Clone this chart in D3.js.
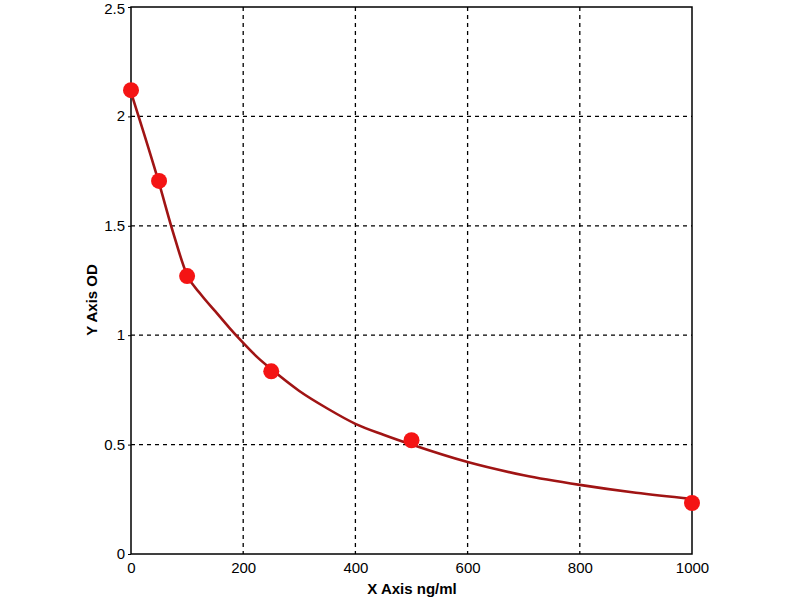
<!DOCTYPE html>
<html>
<head>
<meta charset="utf-8">
<script src="https://cdn.jsdelivr.net/npm/d3@7.9.0/dist/d3.min.js"></script>
<style>
  body { margin: 0; background: #fff; }
  svg { font-family: "Liberation Sans", Arial, sans-serif; }
</style>
</head>
<body>
<svg width="800" height="600"></svg>
<script>
// standard points (ng/ml, OD)
const conc = [0, 50, 100, 250, 500, 1000];
const od = [2.12, 1.705, 1.27, 0.835, 0.52, 0.233];

// fitted curve
const fitX = [0, 50, 75, 100, 125, 150, 175, 200, 225, 250, 300, 350, 400, 450, 500, 600, 700, 800, 900, 1000];
const fitY = [2.11, 1.695, 1.47, 1.275, 1.185, 1.11, 1.035, 0.965, 0.9, 0.845, 0.745, 0.665, 0.595, 0.545, 0.5, 0.42, 0.36, 0.316, 0.28, 0.252];

const xTicks = [0, 200, 400, 600, 800, 1000];
const yTicks = [0, 0.5, 1, 1.5, 2, 2.5];

const svg = d3.select('svg');
const mLeft = 131, mRight = 692, mTop = 7, mBottom = 554;

const x = d3.scaleLinear().domain([0, 1000]).range([mLeft, mRight]);
const y = d3.scaleLinear().domain([0, 2.5]).range([mBottom, mTop]);

// grid
svg.append('g').selectAll('line').data(xTicks.slice(1, -1)).join('line')
  .attr('x1', d => x(d)).attr('x2', d => x(d))
  .attr('y1', mTop).attr('y2', mBottom)
  .attr('stroke', '#000').attr('stroke-width', 1.3).attr('stroke-dasharray', '4,4');
svg.append('g').selectAll('line').data(yTicks.slice(1, -1)).join('line')
  .attr('x1', mLeft).attr('x2', mRight)
  .attr('y1', d => y(d)).attr('y2', d => y(d))
  .attr('stroke', '#000').attr('stroke-width', 1.3).attr('stroke-dasharray', '4,4');

// frame
svg.append('rect')
  .attr('x', mLeft).attr('y', mTop)
  .attr('width', mRight - mLeft).attr('height', mBottom - mTop)
  .attr('fill', 'none').attr('stroke', '#000').attr('stroke-width', 1.5);

// axes
const xAxis = svg.append('g')
  .attr('transform', `translate(0,${mBottom})`)
  .call(d3.axisBottom(x).tickValues(xTicks).tickSize(0).tickPadding(8).tickFormat(d3.format('d')));
const yAxis = svg.append('g')
  .attr('transform', `translate(${mLeft},0)`)
  .call(d3.axisLeft(y).tickValues(yTicks).tickSize(3).tickPadding(3).tickFormat(d => d));
[xAxis, yAxis].forEach(a => {
  a.select('.domain').remove();
  a.selectAll('text').attr('font-size', 15).attr('fill', '#000')
    .attr('font-family', '"Liberation Sans", Arial, sans-serif');
});
yAxis.selectAll('text').attr('dy', '0.3em');
yAxis.selectAll('.tick').filter(d => d === 2.5).select('text').attr('dy', '0.45em');

// curve
const line = d3.line()
  .x((d, i) => x(fitX[i]))
  .y(d => y(d))
  .curve(d3.curveMonotoneX);
svg.append('path')
  .attr('d', line(fitY))
  .attr('fill', 'none').attr('stroke', '#a01414').attr('stroke-width', 2.6);

// points
svg.append('g').selectAll('circle').data(conc).join('circle')
  .attr('cx', d => x(d))
  .attr('cy', (d, i) => y(od[i]))
  .attr('r', 8)
  .attr('fill', '#f41414');

// titles
svg.append('text')
  .attr('x', 412).attr('y', 594)
  .attr('text-anchor', 'middle')
  .attr('font-size', 15).attr('font-weight', 'bold')
  .text('X Axis ng/ml');
svg.append('text')
  .attr('transform', 'translate(97,300) rotate(-90)')
  .attr('text-anchor', 'middle')
  .attr('font-size', 15).attr('font-weight', 'bold')
  .text('Y Axis OD');
</script>
</body>
</html>
